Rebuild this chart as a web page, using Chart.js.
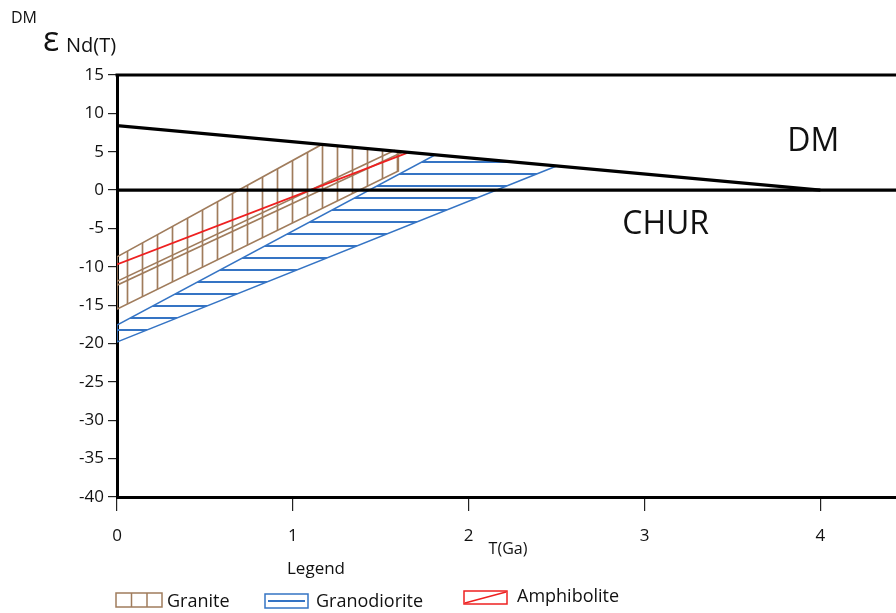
<!DOCTYPE html>
<html>
<head>
<meta charset="utf-8">
<script src="https://cdn.jsdelivr.net/npm/chart.js@4.4.1/dist/chart.umd.min.js"></script>
<style>
  body { margin: 0; background: #fff; }
  #wrap { width: 896px; height: 613px; position: relative; }
</style>
</head>
<body>
<div id="wrap"><canvas id="ndChart"></canvas></div>
<script>
// T (Ga) and εNd(T) values
const dmT = [0, 4.0]
const dmE = [8.4, 0]
const churT = [0, 4.43]
const churE = [0, 0]
const graniteT = [0, 1.165, 1.6, 1.6, 0, 0]
const graniteE = [-8.7, 5.95, 5.04, 2.5, -15.5, -8.7]
const graniteInnerAT = [0, 1.58]
const graniteInnerAE = [-11.9, 5.2]
const graniteInnerBT = [0, 1.62]
const graniteInnerBE = [-12.4, 4.9]
const granodioriteT = [0, 1.81, 2.5, 0, 0]
const granodioriteE = [-17.6, 4.6, 3.15, -19.8, -17.6]
const amphiboliteT = [0, 1.65]
const amphiboliteE = [-9.7, 4.85]
const xTicks = [0, 1, 2, 3, 4]
const yTicks = [15, 10, 5, 0, -5, -10, -15, -20, -25, -30, -35, -40]

const black = '#000'
const brown = '#a07c5c'
const blue = '#3574c4'
const red = '#ee2020'
const font = "'Open Sans', 'Noto Sans', sans-serif"

function toPoints(xs, ys) {
  let pts = []
  for (let i = 0; i < xs.length; i++) {
    pts.push({ x: xs[i], y: ys[i] })
  }
  return pts
}

// hatch patterns for the two fields
function hatch(color, w, h, vertical) {
  let c = document.createElement('canvas')
  c.width = w
  c.height = h
  let g = c.getContext('2d')
  g.strokeStyle = color
  g.lineWidth = vertical ? 1.7 : 2
  g.beginPath()
  if (vertical) {
    g.moveTo(w / 2, 0)
    g.lineTo(w / 2, h)
  } else {
    g.moveTo(0, h / 2)
    g.lineTo(w, h / 2)
  }
  g.stroke()
  return g.createPattern(c, 'repeat')
}

function lineSet(xs, ys, color, width) {
  return {
    data: toPoints(xs, ys),
    borderColor: color,
    borderWidth: width,
    pointRadius: 0,
    fill: false,
    tension: 0,
  }
}

let datasets = [
  lineSet(dmT, dmE, black, 3.4),
  lineSet(churT, churE, black, 3.4),
  lineSet(amphiboliteT, amphiboliteE, red, 1.8),
  lineSet(graniteInnerAT, graniteInnerAE, brown, 1.6),
  lineSet(graniteInnerBT, graniteInnerBE, brown, 1.6),
  Object.assign(lineSet(graniteT, graniteE, brown, 1.6), {
    fill: 'shape',
    backgroundColor: hatch(brown, 15, 10, true),
  }),
  Object.assign(lineSet(granodioriteT, granodioriteE, blue, 1.6), {
    fill: 'shape',
    backgroundColor: hatch(blue, 10, 12, false),
  }),
]

// frame, labels, axis titles and legend
const decorations = {
  id: 'decorations',
  afterDraw(chart) {
    let ctx = chart.ctx
    let a = chart.chartArea
    let xs = chart.scales.x
    let ys = chart.scales.y
    ctx.save()
    ctx.strokeStyle = black
    ctx.lineWidth = 3
    ctx.beginPath()
    ctx.moveTo(a.left - 1.5, a.top)
    ctx.lineTo(a.right, a.top)
    ctx.stroke()

    ctx.fillStyle = '#111'
    ctx.textAlign = 'center'
    ctx.textBaseline = 'middle'
    ctx.font = '32px ' + font
    ctx.fillText('DM', xs.getPixelForValue(3.96), ys.getPixelForValue(6.3))
    ctx.fillText('CHUR', xs.getPixelForValue(3.12), ys.getPixelForValue(-4.6))

    ctx.font = '16px ' + font
    ctx.fillText('T(Ga)', 508, 549)
    ctx.font = '17px ' + font
    ctx.fillText('Legend', 316, 569)

    ctx.textAlign = 'left'
    ctx.font = '16px ' + font
    ctx.fillText('DM', 11, 18)
    ctx.font = '34px ' + font
    ctx.fillText('ε', 43, 41)
    ctx.font = '20px ' + font
    ctx.fillText('Nd(T)', 66, 46)

    // legend keys
    ctx.lineWidth = 1.5
    ctx.strokeStyle = brown
    ctx.strokeRect(116, 593, 46, 14)
    ctx.beginPath()
    ctx.moveTo(131.5, 593)
    ctx.lineTo(131.5, 607)
    ctx.moveTo(147, 593)
    ctx.lineTo(147, 607)
    ctx.stroke()

    ctx.strokeStyle = blue
    ctx.strokeRect(265, 594, 43, 14)
    ctx.lineWidth = 2
    ctx.beginPath()
    ctx.moveTo(268, 601)
    ctx.lineTo(305, 601)
    ctx.stroke()

    ctx.lineWidth = 1.5
    ctx.strokeStyle = red
    ctx.strokeRect(464, 591, 43, 13)
    ctx.beginPath()
    ctx.moveTo(465, 603)
    ctx.lineTo(506, 592)
    ctx.stroke()

    ctx.fillStyle = '#111'
    ctx.font = '18px ' + font
    ctx.fillText('Granite', 167, 602)
    ctx.fillText('Granodiorite', 316, 602)
    ctx.fillText('Amphibolite', 517, 597)
    ctx.restore()
  },
}

new Chart(document.getElementById('ndChart'), {
  type: 'line',
  data: { datasets: datasets },
  options: {
    responsive: true,
    maintainAspectRatio: false,
    animation: false,
    layout: { padding: { top: 75, left: 0, right: 0, bottom: 0 } },
    plugins: {
      legend: { display: false },
      tooltip: { enabled: false },
    },
    scales: {
      x: {
        type: 'linear',
        min: 0,
        max: 4.43,
        afterFit: (scale) => {
          scale.height = 116
        },
        afterBuildTicks: (scale) => {
          scale.ticks = xTicks.map((v) => ({ value: v }))
        },
        ticks: {
          color: '#111',
          font: { size: 17, family: font },
          padding: 15,
          maxRotation: 0,
        },
        grid: {
          drawOnChartArea: false,
          drawTicks: true,
          tickLength: 14,
          color: '#222',
          lineWidth: 1.2,
        },
        border: { color: black, width: 3 },
      },
      y: {
        min: -40,
        max: 15,
        afterFit: (scale) => {
          scale.width = 117
        },
        afterBuildTicks: (scale) => {
          scale.ticks = yTicks.map((v) => ({ value: v }))
        },
        ticks: {
          color: '#111',
          font: { size: 17, family: font },
          padding: 4,
        },
        grid: {
          drawOnChartArea: false,
          drawTicks: true,
          tickLength: 9,
          color: '#222',
          lineWidth: 1.2,
        },
        border: { color: black, width: 3 },
      },
    },
  },
  plugins: [decorations],
})
</script>
</body>
</html>
